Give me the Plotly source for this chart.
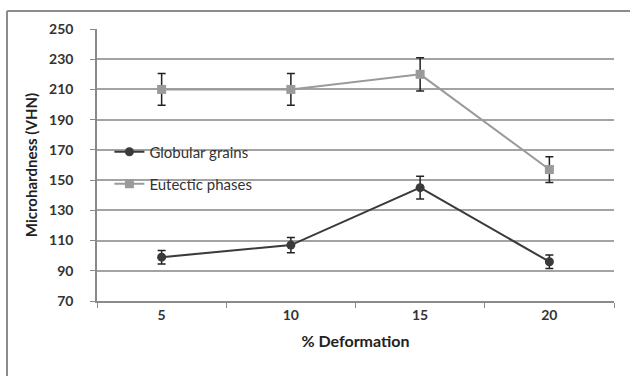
import plotly.graph_objects as go

deformation = ["5", "10", "15", "20"]
globular = [99, 107, 145, 96]
globular_err = [4.5, 5, 7.5, 4.5]
eutectic = [210, 210, 220, 157]
eutectic_err = [10.5, 10.5, 11, 8.5]
y_ticks = [70, 90, 110, 130, 150, 170, 190, 210, 230, 250]

FONT = "Lato"
TXT = "#333333"

fig = go.Figure()
fig.add_trace(go.Scatter(
    x=deformation, y=globular, name="Globular grains", mode="lines+markers",
    line=dict(color="#3a3a3a", width=2),
    marker=dict(symbol="circle", size=9, color="#3a3a3a"),
    error_y=dict(type="data", array=globular_err, color="#222222", thickness=1.5, width=4),
    legend="legend", showlegend=True,
))
fig.add_trace(go.Scatter(
    x=deformation, y=eutectic, name="Eutectic phases", mode="lines+markers",
    line=dict(color="#9a9a9a", width=2),
    marker=dict(symbol="square", size=9, color="#9a9a9a"),
    error_y=dict(type="data", array=eutectic_err, color="#222222", thickness=1.5, width=4),
    legend="legend2", showlegend=True,
))

legend_common = dict(font=dict(family=FONT, size=15, color=TXT), bgcolor="rgba(0,0,0,0)",
                     xanchor="left", yanchor="middle", itemwidth=30)
border = dict(color="#8c8c8c", width=2)
bx0 = (7 - 97) / 517
bx1 = (630 - 97) / 517
by1 = (301 - 11) / 272
by0 = (301 - 376) / 272
fig.update_layout(
    width=630, height=376,
    margin=dict(l=97, r=16, t=29, b=75),
    paper_bgcolor="white", plot_bgcolor="white",
    font=dict(family=FONT, color=TXT),
    showlegend=True,
    legend=dict(x=0.024, y=(301 - 152) / 272, **legend_common),
    legend2=dict(x=0.024, y=(301 - 184) / 272, **legend_common),
    xaxis=dict(
        type="category", range=[-0.5, 3.5], tickson="boundaries",
        ticks="outside", ticklen=5, tickcolor="#8a8a8a",
        showgrid=False, showline=True, linecolor="#8a8a8a", linewidth=1.5,
        tickfont=dict(family=FONT, size=14, color=TXT, weight="bold"),
        title=dict(text="% Deformation", font=dict(family=FONT, size=16, color="#222", weight="bold"), standoff=14),
    ),
    yaxis=dict(
        range=[70, 250], tickvals=y_ticks, ticktext=[str(v) for v in y_ticks],
        ticks="outside", ticklen=5, tickcolor="#8a8a8a",
        showgrid=True, gridcolor="#a3a3a3", gridwidth=1.6,
        showline=True, linecolor="#8a8a8a", linewidth=1.5, zeroline=False,
        ticklabelstandoff=14,
        tickfont=dict(family=FONT, size=14, color=TXT, weight="bold"),
        title=dict(text="Microhardness (VHN)", font=dict(family=FONT, size=15, color="#222", weight="bold"), standoff=8),
    ),
    shapes=[
        dict(type="line", xref="paper", yref="paper", x0=bx0, x1=bx1, y0=by1, y1=by1, line=border),
        dict(type="line", xref="paper", yref="paper", x0=bx0, x1=bx0, y0=by1, y1=by0, line=border),
    ],
)

fig.write_html("out.html", config={"displayModeBar": False},
               post_script="document.body.style.margin='0';document.body.style.overflow='hidden';")
